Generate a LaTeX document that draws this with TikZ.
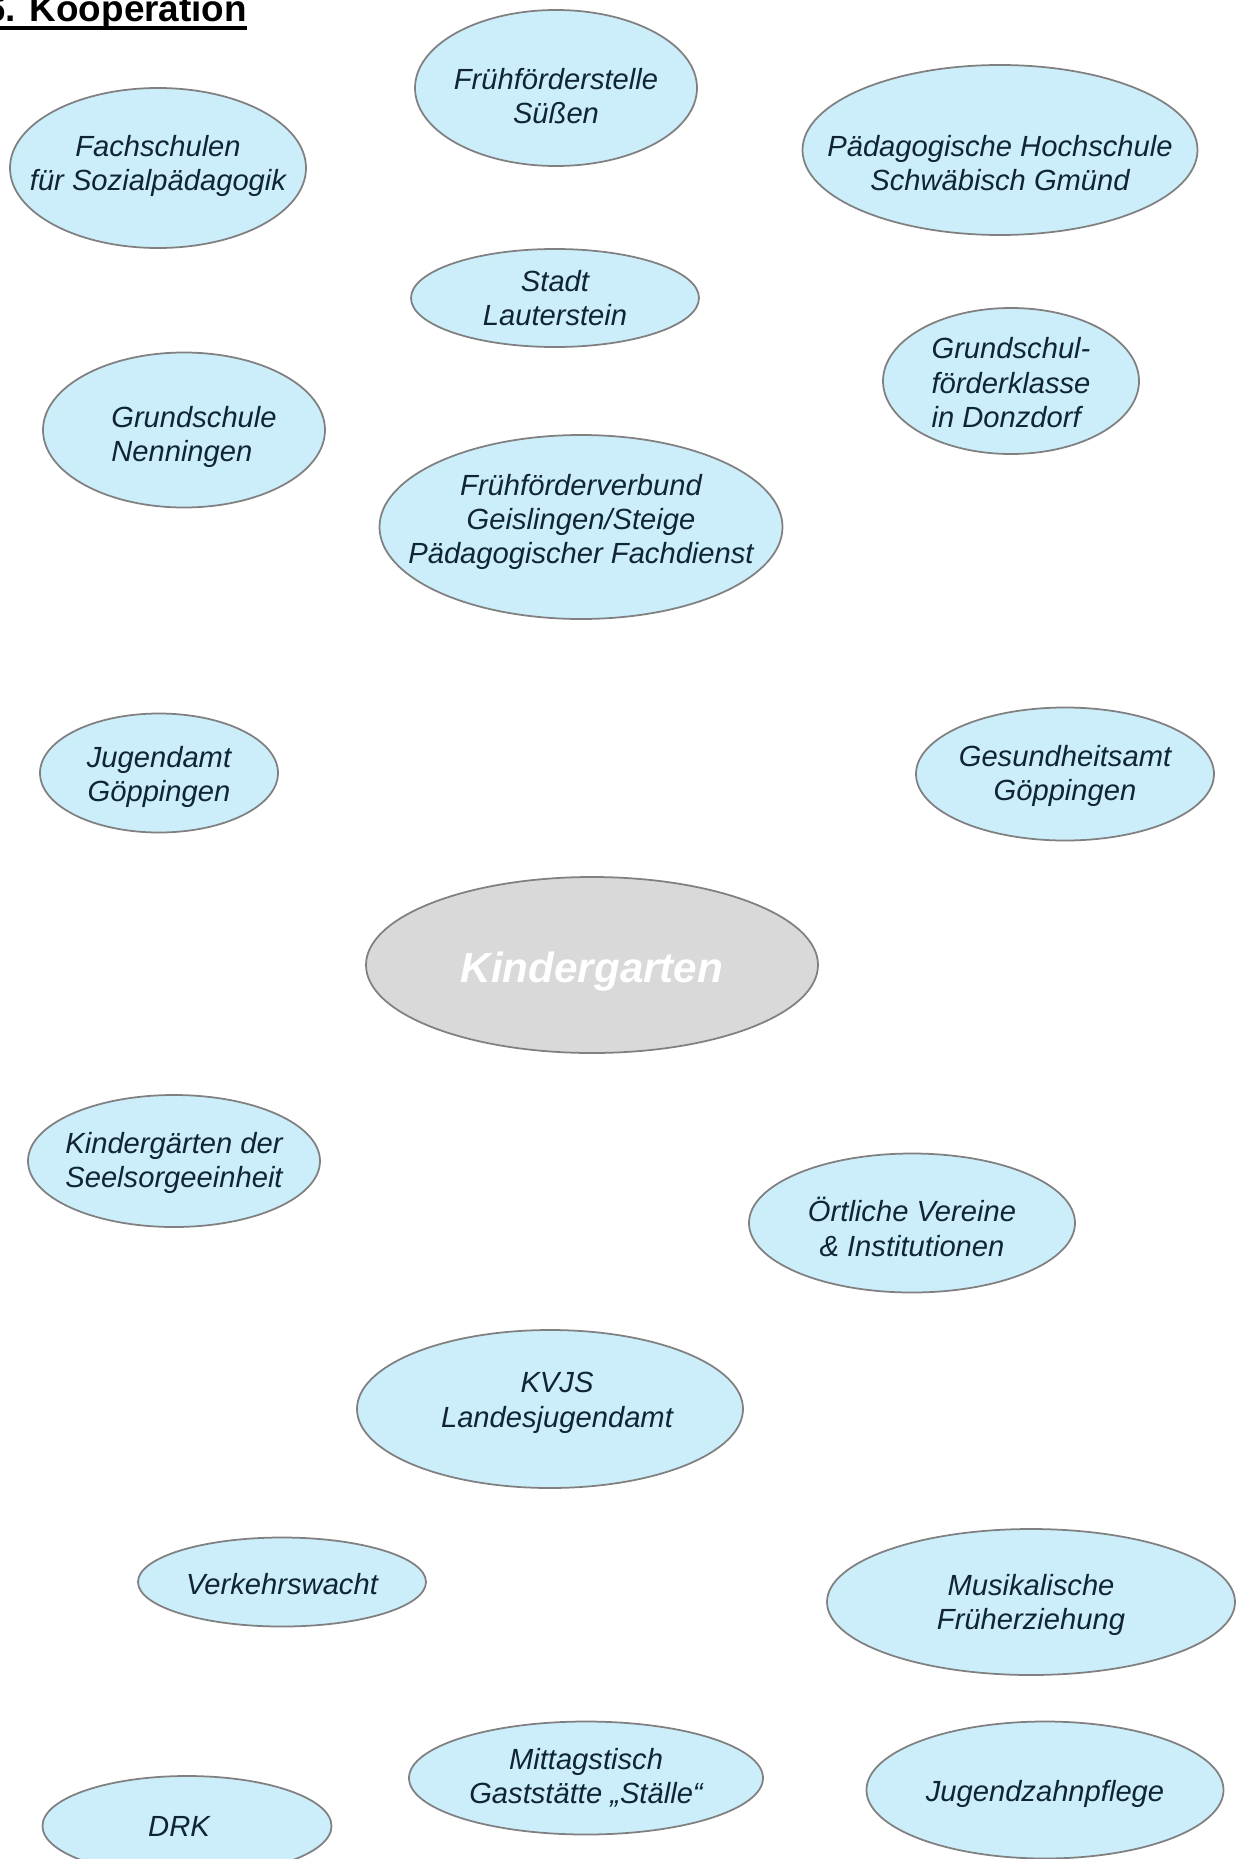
\documentclass[tikz,border=0pt]{standalone}
\usepackage{fontspec}
\setmainfont{Liberation Sans}
\usetikzlibrary{shapes.geometric}
\usepackage{xcolor}
\definecolor{orgblue}{RGB}{204,237,250}
\definecolor{orgtext}{RGB}{15,36,52}
\definecolor{linegray}{RGB}{128,128,128}
\definecolor{kigagray}{RGB}{217,217,217}

\begin{document}
\begin{tikzpicture}[x=0.02cm, y=-0.02cm,
  ellsize/.style 2 args={minimum width=#1*0.02cm, minimum height=#2*0.02cm},
  org/.style={ellipse, draw=linegray, line width=1pt, fill=orgblue, inner sep=0pt},
  orgtxt/.style={align=center, inner sep=0pt, text=orgtext, font=\fontsize{16.6}{19.6}\selectfont\itshape},
  kiga/.style={org, fill=kigagray},
  kigatxt/.style={inner sep=0pt, text=white, font=\fontsize{24}{28}\selectfont\bfseries\itshape},
  titletxt/.style={anchor=base west, inner sep=0pt, font=\fontsize{21}{25}\selectfont\bfseries}
]
\useasboundingbox (0,0) rectangle (1240,1859);
\fill[white] (0,0) rectangle (1240,1859);
% title
\node[titletxt] (title) at (-15,21) {6. Kooperation};
\draw[line width=2pt] ([yshift=-4pt]title.base west) -- ([yshift=-4pt]title.base east);
% partners
\node[org, ellsize={282}{156}, label={[orgtxt, yshift=-0.16cm]center:{Frühförderstelle\\Süßen}}] (fs) at (556,88) {};
\node[org, ellsize={296}{160}, label={[orgtxt, yshift=0.04cm]center:{Fachschulen\\für Sozialpädagogik}}] (fach) at (158,168) {};
\node[org, ellsize={395}{170}, label={[orgtxt, yshift=-0.26cm]center:{Pädagogische Hochschule\\Schwäbisch Gmünd}}] (ph) at (1000,150) {};
\node[org, ellsize={288}{98}, label={[orgtxt]center:{Stadt\\Lauterstein}}] (stadt) at (555,298) {};
\node[org, ellsize={256}{146}, label={[orgtxt, align=left, yshift=-0.04cm]center:{Grundschul-\\förderklasse\\in Donzdorf}}] (gfk) at (1011,381) {};
\node[org, ellsize={282}{155}, label={[orgtxt, align=left, xshift=0.2cm, yshift=-0.14cm]center:{Grundschule\\Nenningen}}] (gsn) at (184,430) {};
\node[org, ellsize={403}{184}, label={[orgtxt, yshift=0.1cm]center:{Frühförderverbund\\Geislingen/Steige\\Pädagogischer Fachdienst}}] (ffv) at (581,527) {};
\node[org, ellsize={238}{119}, label={[orgtxt, yshift=-0.08cm]center:{Jugendamt\\Göppingen}}] (jug) at (159,773) {};
\node[org, ellsize={298}{133}, label={[orgtxt, yshift=-0.04cm]center:{Gesundheitsamt\\Göppingen}}] (ges) at (1065,774) {};
% center
\node[kiga, ellsize={452}{176}, label={[kigatxt, yshift=-0.14cm]center:Kindergarten}] (kiga) at (592,965) {};
\node[org, ellsize={292}{132}, label={[orgtxt, yshift=-0.04cm]center:{Kindergärten der\\Seelsorgeeinheit}}] (kgs) at (174,1161) {};
\node[org, ellsize={326}{139}, label={[orgtxt, yshift=-0.08cm]center:{Örtliche Vereine\\\& Institutionen}}] (oev) at (912,1223) {};
\node[org, ellsize={386}{158}, label={[orgtxt, xshift=0.14cm, yshift=0.12cm]center:{KVJS\\Landesjugendamt}}] (kvjs) at (550,1409) {};
\node[org, ellsize={288}{89}, label={[orgtxt, yshift=-0.04cm]center:{Verkehrswacht}}] (vkw) at (282,1582) {};
\node[org, ellsize={408}{146}, label={[orgtxt, yshift=-0.06cm]center:{Musikalische\\Früherziehung}}] (mfe) at (1031,1602) {};
\node[org, ellsize={354}{113}, label={[orgtxt]center:{Mittagstisch\\Gaststätte „Ställe“}}] (mit) at (586,1778) {};
\node[org, ellsize={357}{137}, label={[orgtxt, yshift=-0.08cm]center:{Jugendzahnpflege}}] (jzp) at (1045,1790) {};
\node[org, ellsize={289}{100}, label={[orgtxt, xshift=-0.16cm]center:{DRK}}] (drk) at (187,1826) {};
\end{tikzpicture}
\end{document}
